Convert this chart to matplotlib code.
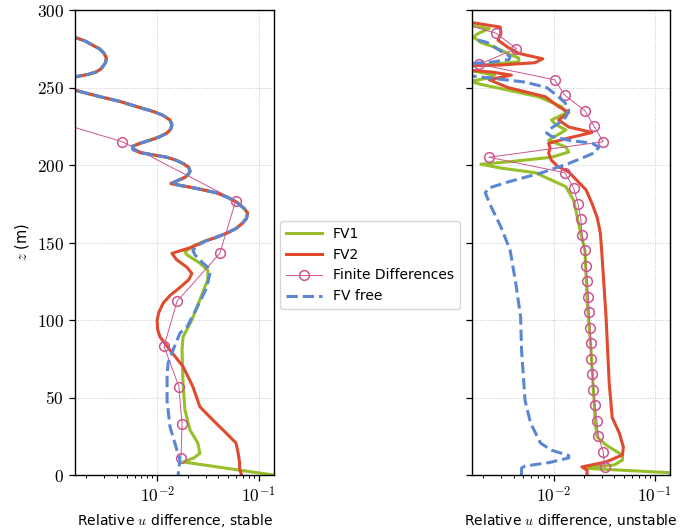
import math
import matplotlib
matplotlib.use("Agg")
import matplotlib.pyplot as plt
from matplotlib.ticker import FuncFormatter, LogLocator, MultipleLocator, NullFormatter

plt.rcParams['font.family'] = ['DejaVu Sans']
plt.rcParams['mathtext.fontset'] = 'cm'

# ---------------- stable case ----------------
# part shared by FV1, FV2 and FV free (z descending)
stable_common_z = [300, 290, 285, 282, 280, 277, 275, 272, 269, 266, 264, 262, 260, 258.5, 257,
                   253, 248, 246, 244, 241, 237, 234.5, 232, 229, 226, 223, 220.6, 218, 216,
                   214, 212, 210, 208, 205, 203, 201, 198.5, 196, 194, 192, 190, 188, 186.5,
                   185, 182, 179, 176, 172, 169, 165.5, 162.6, 159, 156, 153, 151]
stable_common_v = [5e-4, 8e-4, 1.3e-3, 1.6e-3, 1.95e-3, 2.36e-3, 2.7e-3, 3.0e-3, 3.16e-3,
                   3.1e-3, 2.95e-3, 2.8e-3, 2.5e-3, 2.1e-3, 1.6e-3,
                   7e-4, 1.6e-3, 2.1e-3, 2.76e-3, 4.3e-3, 6.8e-3, 9.2e-3, 0.01146, 0.0134,
                   0.0140, 0.0136, 0.0125, 0.0104, 0.0085, 0.0068, 0.0057, 0.0058, 0.0068,
                   0.0125, 0.0155, 0.0180, 0.0205, 0.0211, 0.0203, 0.0188, 0.0160, 0.0137,
                   0.0180, 0.024, 0.0387, 0.050, 0.0608, 0.072, 0.078, 0.076, 0.0697, 0.060,
                   0.0485, 0.037, 0.030]

stable_fv1_z = [148, 144, 142, 137, 132, 126, 120, 113, 100, 89, 80.6, 70, 59, 42, 29, 20.6,
                14, 11, 8.4, 0]
stable_fv1_v = [0.023, 0.0188, 0.0197, 0.026, 0.0316, 0.0316, 0.029, 0.0264, 0.0220, 0.0180,
                0.0176, 0.0178, 0.0180, 0.0188, 0.0211, 0.0252, 0.0264, 0.0230, 0.0180, 0.14]

stable_fv2_z = [147, 143, 139, 134, 130, 126, 121, 116, 111, 105, 100, 94, 89, 80.6, 70, 57,
                44, 35.5, 27, 20.6, 14, 8, 4, 0]
stable_fv2_v = [0.022, 0.0140, 0.0155, 0.0197, 0.0220, 0.0205, 0.0168, 0.0135, 0.0115, 0.0104,
                0.0100, 0.0101, 0.0107, 0.0134, 0.0180, 0.0225, 0.0264, 0.0354, 0.048, 0.060,
                0.063, 0.065, 0.065, 0.068]

stable_free_z = [148, 145, 142, 137, 134, 130, 121, 108, 95.5, 91.6, 80.6, 72, 63, 48, 31, 16,
                 9.7, 0]
stable_free_v = [0.025, 0.0225, 0.0236, 0.028, 0.0316, 0.0331, 0.0309, 0.0247, 0.0197, 0.0168,
                 0.01435, 0.0128, 0.01253, 0.01253, 0.0134, 0.0157, 0.0168, 0.0161]

stable_fd_z = [11, 33, 57, 83, 112, 143, 177, 215, 257]
stable_fd_v = [0.0172, 0.0176, 0.0164, 0.0117, 0.0157, 0.0415, 0.0596, 0.00454, 3.3e-5]

# ---------------- unstable case ----------------
unstable_fv1_z = [0, 1.5, 4.3, 5.2, 6.5, 9.7, 12, 14, 19.4, 24.5, 35, 48, 81, 113, 145, 156,
                  177, 186, 195, 198, 200.5, 202, 205, 208.4, 211.6, 216, 222.6, 226, 229,
                  233.5, 237.6, 244, 249.7, 252, 254, 256, 258, 260, 262, 264, 265, 266.5,
                  269, 272, 276, 279, 282.6, 285, 288, 290, 293, 300]
unstable_fv1_v = [0.15, 0.14, 0.021, 0.024, 0.040, 0.048, 0.048, 0.0447, 0.033, 0.0269, 0.0257,
                  0.0251, 0.0234, 0.0214, 0.0204, 0.0185, 0.0158, 0.0132, 0.0066, 0.0030,
                  0.0019, 0.0035, 0.0095, 0.0141, 0.0132, 0.0089, 0.0132, 0.0105, 0.0095,
                  0.0132, 0.0120, 0.0071, 0.0028, 0.0019, 0.0015, 0.0022, 0.0026, 0.0018,
                  0.0012, 0.0016, 0.0024, 0.0045, 0.0045, 0.0035, 0.0026, 0.0019, 0.0016,
                  0.0018, 0.0023, 0.0015, 0.0010, 0.0006]

unstable_fv2_z = [0, 3.2, 5.2, 8.4, 13, 18, 27, 37, 59, 102, 143, 156, 166, 175, 184, 190,
                  195.5, 199, 203, 207.7, 211, 214, 217, 221, 224.5, 229, 234, 237.6, 244, 250,
                  255, 258, 260, 262, 264, 264.5, 266, 268.5, 272, 276, 280.6, 285, 289, 292,
                  295, 300]
unstable_fv2_v = [0.0214, 0.0214, 0.019, 0.033, 0.048, 0.049, 0.0447, 0.038, 0.0355, 0.033,
                  0.030, 0.029, 0.027, 0.024, 0.0209, 0.017, 0.0141, 0.0110, 0.0095, 0.0089,
                  0.0092, 0.0089, 0.0132, 0.024, 0.0141, 0.0112, 0.0141, 0.0112, 0.0083, 0.0035,
                  0.0023, 0.0038, 0.0024, 0.0010, 0.0012, 0.0030, 0.0065, 0.0078, 0.0045,
                  0.0035, 0.0028, 0.0030, 0.00295, 0.0015, 0.0008, 0.0005]

unstable_free_z = [0, 4.5, 5.8, 8, 11, 12.5, 16, 20.6, 33.5, 48, 80.6, 102, 124, 145, 160, 173,
                   182, 185, 189, 195, 201, 205, 208, 211.5, 214, 216, 218.5, 220.6, 222.6,
                   227, 231, 235.5, 240, 244, 250, 253.5, 256, 258, 262, 265.5, 266.5, 268,
                   270, 274, 279, 282, 290, 300]
unstable_free_v = [0.0048, 0.0048, 0.0052, 0.009, 0.0141, 0.0141, 0.0095, 0.0074, 0.0059,
                   0.0052, 0.0048, 0.0047, 0.0042, 0.0037, 0.0030, 0.0024, 0.0021, 0.00224,
                   0.0035, 0.0076, 0.0141, 0.020, 0.0255, 0.028, 0.024, 0.014, 0.0095, 0.0085,
                   0.0089, 0.0112, 0.0132, 0.0141, 0.0130, 0.0112, 0.0085, 0.0052, 0.0024,
                   0.0013, 0.0008, 0.0015, 0.0025, 0.0036, 0.0037, 0.0029, 0.0022, 0.0015,
                   0.0010, 0.0006]

unstable_fd_z = [5, 15, 25, 35, 45, 55, 65, 75, 85, 95, 105, 115, 125, 135, 145, 155, 165,
                 175, 185, 195, 205, 215, 225, 235, 245, 255, 265, 275, 285, 295]
unstable_fd_v = [0.0321, 0.0309, 0.0277, 0.0268, 0.0257, 0.0247, 0.0242, 0.0236, 0.0233,
                 0.0229, 0.0224, 0.0221, 0.0216, 0.0208, 0.0204, 0.0191, 0.0186, 0.0174,
                 0.0158, 0.0129, 0.00229, 0.0309, 0.0251, 0.0204, 0.0129, 0.0102, 0.00182,
                 0.00427, 0.00269, 0.0008]

labels = ["FV1", "FV2", "Finite Differences", "FV free"]
xlabels = [r"Relative $u$ difference, stable", r"Relative $u$ difference, unstable"]

c_fv1 = "#97bf2a"
c_fv2 = "#e04b30"
c_fd = "#cc5590"
c_free = "#5b87d2"

fig = plt.figure(figsize=(6.8, 5.29), dpi=100)
axL = fig.add_axes([75/680, 54/529, 199/680, 465/529])
axR = fig.add_axes([472/680, 54/529, 198/680, 465/529], sharey=axL)

series = [
    (axL, stable_common_z + stable_fv1_z, stable_common_v + stable_fv1_v,
     stable_common_z + stable_fv2_z, stable_common_v + stable_fv2_v,
     stable_fd_z, stable_fd_v,
     stable_common_z + stable_free_z, stable_common_v + stable_free_v, xlabels[0]),
    (axR, unstable_fv1_z, unstable_fv1_v, unstable_fv2_z, unstable_fv2_v,
     unstable_fd_z, unstable_fd_v, unstable_free_z, unstable_free_v, xlabels[1]),
]

handles = None
for ax, z1, v1, z2, v2, zf, vf, zb, vb, xl in series:
    h1, = ax.plot(v1, z1, color=c_fv1, lw=2.2, solid_joinstyle='round', label=labels[0])
    h2, = ax.plot(v2, z2, color=c_fv2, lw=2.2, solid_joinstyle='round', label=labels[1])
    h3, = ax.plot(vf, zf, color=c_fd, lw=0.7, marker='o', ms=7, mfc='none', mew=1.1,
                  label=labels[2])
    h4, = ax.plot(vb, zb, color=c_free, lw=2.2, ls='--', dash_joinstyle='round',
                  label=labels[3])
    handles = [h1, h2, h3, h4]
    ax.set_xscale('log')
    ax.set_xlim(1.55e-3, 0.142)
    ax.set_ylim(0, 300)
    ax.yaxis.set_major_locator(MultipleLocator(50))
    ax.xaxis.set_major_locator(LogLocator(base=10))
    ax.xaxis.set_major_formatter(FuncFormatter(lambda v, p: r"$10^{%d}$" % round(math.log10(v))))
    ax.xaxis.set_minor_formatter(NullFormatter())
    ax.grid(True, which='major', ls=':', lw=0.7, color='#c8c8c8')
    ax.set_xlabel(xl, fontsize=10, labelpad=4)
    ax.tick_params(axis='both', which='major', labelsize=12.5, length=4.5, width=0.9)
    ax.tick_params(axis='x', which='minor', length=2.5, width=0.7)
    for s in ax.spines.values():
        s.set_linewidth(1.0)

axL.yaxis.set_major_formatter(FuncFormatter(lambda v, p: r"$%d$" % v))
axL.set_ylabel(r"$z$ (m)", fontsize=10.5)
plt.setp(axR.get_yticklabels(), visible=False)

fig.legend(handles, labels, loc='center', bbox_to_anchor=(370/680, 1 - 265/529),
           fontsize=10, handlelength=2.6, frameon=True, fancybox=True, framealpha=0.8,
           edgecolor='#cccccc')

fig.savefig("out.png", dpi=100)
